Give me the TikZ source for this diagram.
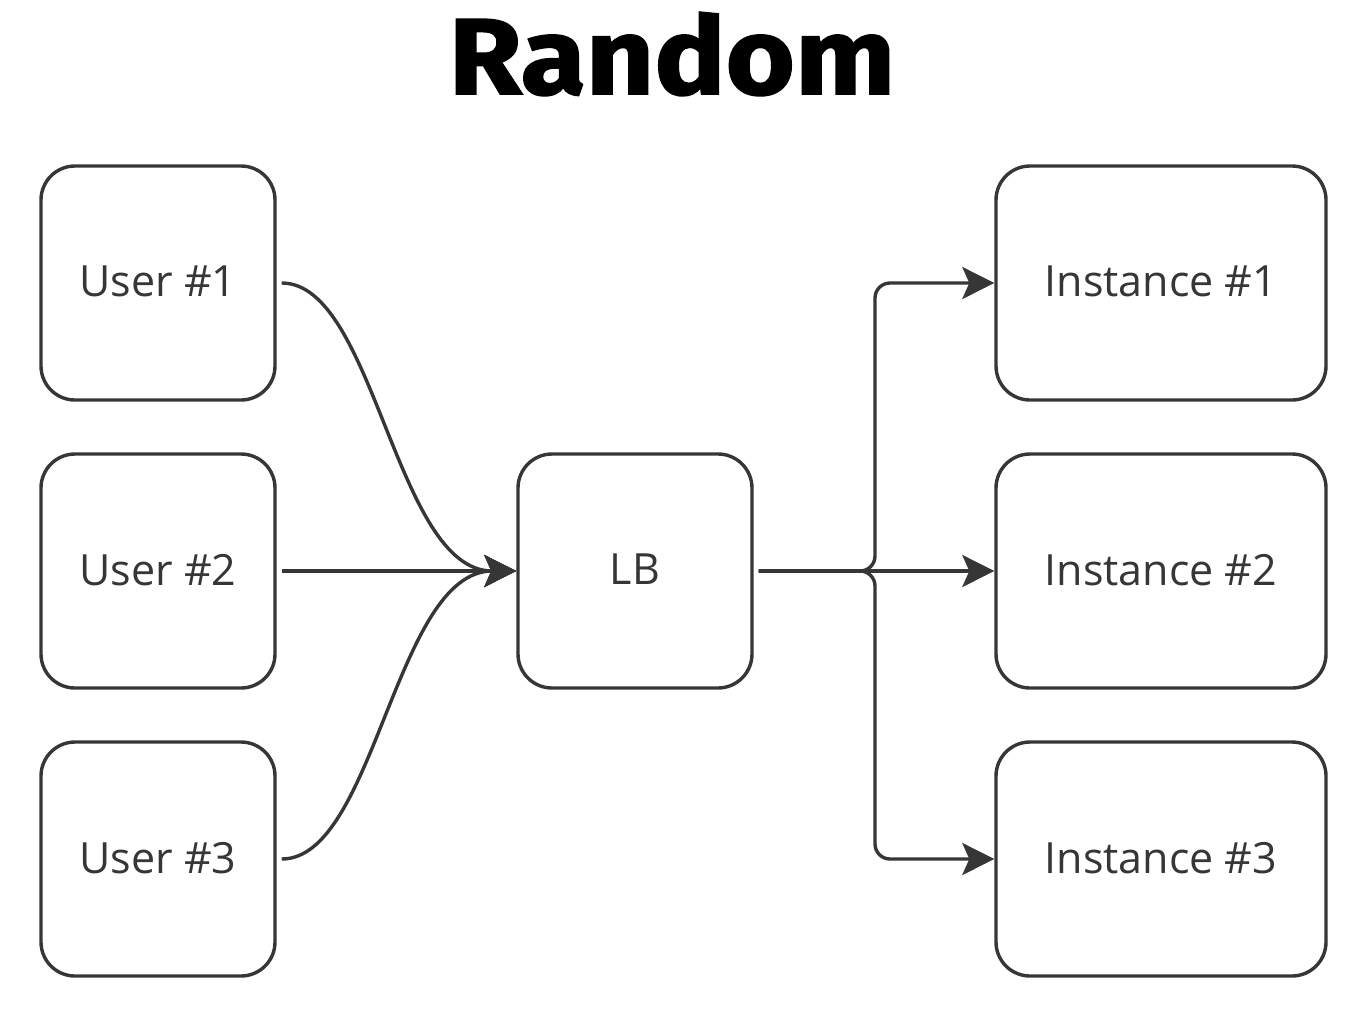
\documentclass[tikz,border=0pt]{standalone}
\usepackage{fontspec}
\setmainfont{Open Sans}
\newfontfamily\titlefont{Fira Sans}[FakeStretch=1.1, FakeBold=1.5]
\usetikzlibrary{arrows.meta}
\definecolor{ink}{HTML}{363636}
\begin{document}
\begin{tikzpicture}[x=1pt,y=-1pt,
  box/.style={draw=ink, line width=3.4pt, rounded corners=34pt, fill=white,
    minimum width=234pt, minimum height=234pt, inner sep=0pt,
    font=\fontsize{43}{50}\selectfont, text=ink, text depth=3pt},
  wide/.style={box, minimum width=330pt},
  conn/.style={draw=ink, line width=3.4pt, -{Stealth[length=32pt,width=32pt,inset=7pt]}},
  trunk/.style={draw=ink, line width=3.4pt, rounded corners=15pt}]
\useasboundingbox (0,0) rectangle (1356,1026);
\node[font=\titlefont\bfseries\fontsize{108}{120}\selectfont, text=black] (title) at (672,54) {Random};
\node[box] (u1) at (158,283) {User \#1};
\node[box] (u2) at (158,571) {User \#2};
\node[box] (u3) at (158,859) {User \#3};
\node[box] (lb) at (635,571) {LB};
\node[wide] (i1) at (1161,283) {Instance \#1};
\node[wide] (i2) at (1161,571) {Instance \#2};
\node[wide] (i3) at (1161,859) {Instance \#3};
\coordinate (s1) at ([xshift=5pt]u1.east);
\coordinate (s2) at ([xshift=5pt]u2.east);
\coordinate (s3) at ([xshift=5pt]u3.east);
\coordinate (m) at ([xshift=-24pt]lb.west);
\coordinate (so) at ([xshift=5pt]lb.east);
\draw[conn] (s1) .. controls (375,283) and (395,571) .. (m) -- (lb.west);
\draw[conn] (s2) -- (lb.west);
\draw[conn] (s3) .. controls (375,859) and (395,571) .. (m) -- (lb.west);
\draw[conn] (so) -- (i2.west);
\draw[trunk, conn] (so) -| (875,283) -- (i1.west);
\draw[trunk, conn] (so) -| (875,859) -- (i3.west);
\end{tikzpicture}
\end{document}
